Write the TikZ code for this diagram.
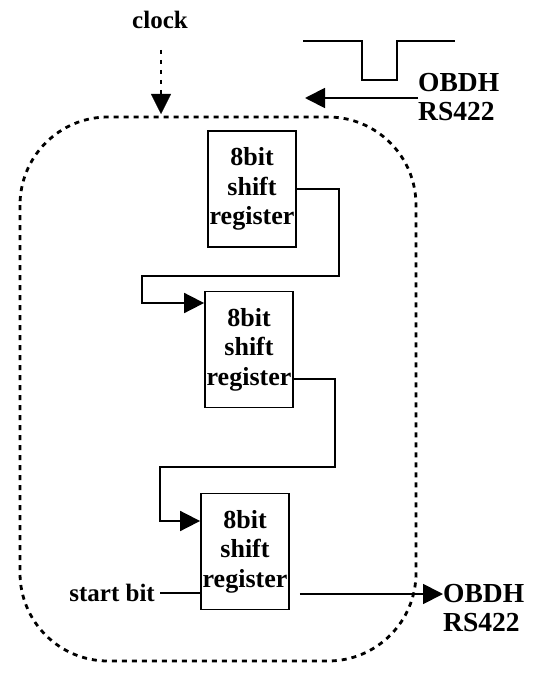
\documentclass[tikz,border=0pt]{standalone}
\usepackage{fontspec}
\setmainfont{Liberation Serif}
\usetikzlibrary{arrows.meta}
\begin{document}
\begin{tikzpicture}[x=1pt,y=-1pt,
  lbl/.style={font=\bfseries\fontsize{25}{29}\selectfont, inner sep=0pt, align=center},
  big/.style={font=\bfseries\fontsize{27.5}{29}\selectfont},
  reg/.style={draw, line width=1.8pt, minimum width=88pt, minimum height=116pt, inner sep=0pt, align=center, font=\bfseries\fontsize{26}{29.5}\selectfont},
  conn/.style={line width=1.8pt},
  tri/.style={-{Triangle[length=20pt,width=20pt]}},
  enclos/.style={line width=2.8pt, dash pattern=on 5pt off 5pt, rounded corners=88pt}]
\useasboundingbox (0,0) rectangle (534,674);
% enclosure
\draw[enclos] (20,117) rectangle (416,661);
% labels
\node[lbl] (clk) at (160,20) {clock};
\node[lbl, big, anchor=west, align=left] (obin) at (418,97) {OBDH\\RS422};
\node[lbl, big, anchor=west, align=left] (obout) at (443,608) {OBDH\\RS422};
\node[lbl, anchor=east] (sb) at (155,593) {start bit};
% registers
\node[reg] (b1) at (252,189) {8bit\\shift\\register};
\node[reg] (b2) at (249,349.5) {8bit\\shift\\register};
\node[reg] (b3) at (245,551.5) {8bit\\shift\\register};
% clock arrow
\coordinate (clktip) at (161,114);
\draw[line width=2.8pt, dash pattern=on 4pt off 6pt] (161,50) -- (161,96);
\draw[tri, line width=0.1pt] (161,94) -- (clktip);
% waveform
\draw[conn] (303,41) -- (362,41) -- (362,80) -- (397,80) -- (397,41) -- (455,41);
% input arrow
\coordinate (intip) at (305,98);
\draw[conn, tri] (418,98) -- (intip);
% connectors
\draw[conn, tri] (b1.east) -- (339,189) -- (339,276) -- (142,276) -- (142,303) -- (b2.west |- 142,303);
\draw[conn, tri] (b2.east |- 0,379) -- (335,379) -- (335,467) -- (160,467) -- (160,521) -- (b3.west |- 160,521);
\draw[conn] (sb.east) ++(5,0) -- (b3.west |- 0,593);
\draw[conn, tri] ([xshift=10pt]b3.east |- 0,594) -- (obout.west |- 0,594);
\end{tikzpicture}
\end{document}
